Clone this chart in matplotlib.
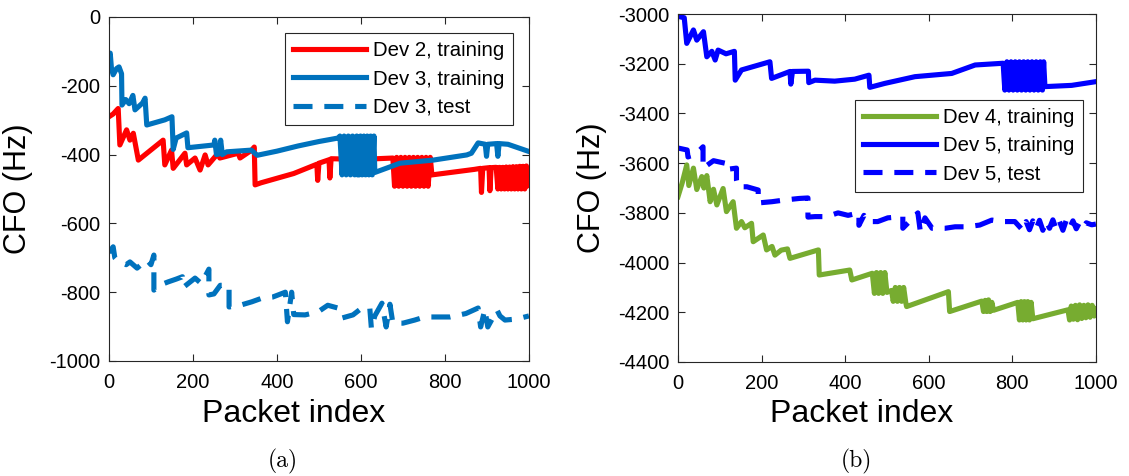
import matplotlib
matplotlib.use("Agg")
import matplotlib.pyplot as plt

plt.rcParams["font.family"] = ["Liberation Sans", "DejaVu Sans"]
plt.rcParams["axes.unicode_minus"] = False

# (packet index, CFO Hz)
dev2_train = [(0, -290), (10, -282), (22, -266), (26, -372), (42, -328), (50, -358), (58, -338),
              (70, -416), (129, -358), (133, -430), (149, -387), (153, -440), (181, -396), (185, -430),
              (205, -410), (217, -445), (229, -401), (236, -430), (260, -396), (264, -410), (308, -396),
              (312, -410), (340, -387), (346, -378), (348, -488), (362, -482), (440, -455), (495, -428),
              (497, -475), (500, -425), (524, -415), (526, -468), (529, -412), (600, -414), (676, -410),
              (680, -492), (685, -408), (690, -492), (695, -408), (700, -492), (705, -408), (710, -492),
              (715, -408), (720, -492), (725, -408), (730, -492), (735, -408), (740, -492), (745, -408),
              (750, -492), (755, -408), (760, -492), (765, -408), (769, -459), (870, -443), (885, -440),
              (887, -510), (890, -440), (905, -438), (907, -505), (910, -438), (922, -437), (926, -500),
              (930, -437), (934, -500), (938, -437), (942, -500), (946, -436), (950, -500), (954, -436),
              (958, -500), (962, -435), (966, -500), (970, -435), (974, -500), (978, -434), (982, -500),
              (986, -434), (990, -500), (994, -433), (1000, -490)]

dev3_train = [(0, -115), (3, -105), (6, -150), (10, -168), (18, -150), (24, -145), (30, -165),
              (31, -256), (40, -240), (48, -252), (57, -228), (62, -270), (80, -250), (86, -236),
              (90, -314), (133, -299), (150, -290), (153, -385), (160, -352), (185, -337), (188, -380),
              (250, -372), (252, -358), (256, -400), (262, -398), (266, -358), (270, -400), (280, -392),
              (339, -387), (353, -402), (400, -390), (450, -375), (500, -362), (545, -352),
              (550, -346), (555, -459), (560, -346), (565, -459), (570, -346), (575, -459), (580, -346),
              (585, -459), (590, -346), (592, -459), (596, -459), (599, -346), (603, -459), (607, -346),
              (611, -459), (615, -346), (619, -459), (623, -346), (627, -459), (631, -346), (633, -452),
              (693, -425), (772, -416), (852, -401), (863, -396), (879, -366), (896, -370), (899, -405),
              (902, -370), (923, -368), (926, -405), (929, -368), (950, -370), (1000, -391)]

dev3_test = [(0, -685), (10, -668), (14, -700), (22, -711), (41, -720), (50, -712), (67, -730),
             (90, -706), (100, -720), (107, -692), (107, -794), (120, -780), (141, -770), (160, -762),
             (175, -755), (178, -785), (205, -759), (220, -775), (238, -733), (238, -808), (250, -805),
             (265, -780), (286, -780), (286, -843), (315, -837), (340, -828), (365, -817), (390, -814),
             (420, -800), (425, -886), (435, -800), (440, -865), (467, -866), (498, -857), (521, -838),
             (545, -846), (555, -875), (581, -866), (600, -848), (621, -845), (625, -907), (633, -869),
             (650, -832), (660, -901), (669, -835), (676, -890), (700, -890), (728, -881), (752, -872),
             (783, -872), (812, -872), (850, -862), (879, -846), (885, -901), (895, -850), (902, -901),
             (924, -852), (931, -869), (943, -881), (971, -878), (1000, -869)]

dev4_train = [(0, -3735), (10, -3680), (21, -3607), (26, -3690), (37, -3620), (45, -3706), (57, -3654),
              (62, -3700), (69, -3650), (77, -3755), (85, -3705), (93, -3768), (108, -3702), (116, -3795),
              (132, -3755), (140, -3862), (152, -3835), (160, -3860), (176, -3842), (180, -3916),
              (204, -3889), (212, -3949), (225, -3935), (232, -3970), (247, -3950), (262, -3945),
              (268, -3983), (336, -3949), (338, -4050), (411, -4030), (416, -4070), (465, -4043),
              (470, -4124), (475, -4040), (480, -4124), (485, -4040), (490, -4124), (495, -4040),
              (500, -4120), (511, -4112), (515, -4156), (520, -4100), (525, -4156), (530, -4100),
              (535, -4156), (540, -4100), (545, -4160), (547, -4177), (647, -4117), (650, -4197),
              (727, -4155), (731, -4197), (735, -4152), (739, -4197), (743, -4150), (747, -4197),
              (751, -4160), (755, -4192), (813, -4160), (817, -4231), (821, -4157), (825, -4231),
              (829, -4157), (833, -4231), (837, -4157), (841, -4231), (845, -4160), (849, -4226),
              (933, -4190), (937, -4231), (941, -4175), (946, -4228), (951, -4172), (956, -4230),
              (961, -4170), (966, -4225), (971, -4172), (976, -4222), (981, -4170), (986, -4220),
              (991, -4172), (996, -4215), (1000, -4185)]

dev5_train = [(0, -3005), (5, -3011), (15, -3015), (21, -3118), (37, -3064), (45, -3105), (61, -3071),
              (69, -3172), (81, -3150), (89, -3185), (96, -3145), (115, -3160), (135, -3150),
              (137, -3266), (152, -3225), (220, -3192), (224, -3259), (268, -3231), (270, -3282),
              (274, -3231), (312, -3230), (313, -3276), (328, -3266), (375, -3270), (423, -3262),
              (457, -3246), (459, -3295), (495, -3279), (567, -3252), (655, -3239), (711, -3205),
              (778, -3198), (782, -3306), (787, -3192), (792, -3306), (797, -3192), (802, -3306),
              (807, -3192), (812, -3306), (817, -3192), (822, -3306), (827, -3192), (832, -3306),
              (837, -3192), (842, -3306), (847, -3192), (852, -3306), (857, -3192), (862, -3306),
              (867, -3192), (872, -3306), (875, -3192), (878, -3292), (942, -3287), (1000, -3272)]

dev5_test = [(0, -3539), (22, -3547), (24, -3575), (45, -3560), (60, -3534), (60, -3620), (85, -3590),
             (112, -3600), (112, -3626), (140, -3620), (140, -3668), (144, -3695), (165, -3695),
             (192, -3708), (192, -3760), (225, -3755), (256, -3748), (290, -3742), (311, -3740),
             (311, -3817), (328, -3815), (356, -3815), (383, -3800), (407, -3810), (433, -3800),
             (433, -3850), (445, -3810), (455, -3835), (478, -3835), (502, -3820), (538, -3815),
             (538, -3862), (574, -3800), (580, -3877), (591, -3820), (608, -3862), (639, -3862),
             (663, -3856), (691, -3856), (722, -3849), (751, -3829), (778, -3835), (806, -3835),
             (825, -3870), (833, -3835), (841, -3868), (849, -3832), (857, -3865), (865, -3830),
             (873, -3870), (881, -3833), (889, -3862), (897, -3828), (905, -3866), (913, -3835),
             (921, -3870), (929, -3830), (937, -3860), (945, -3832), (953, -3864), (961, -3838),
             (969, -3858), (977, -3840), (990, -3848), (1000, -3845)]

xticks = [0, 200, 400, 600, 800, 1000]
yticks_a = [0, -200, -400, -600, -800, -1000]
yticks_b = [-3000, -3200, -3400, -3600, -3800, -4000, -4200, -4400]

LW = 3.7
DASH = (0, (3.7, 2.3))
AXC = "#262626"


def style(ax, yticks, ylab_x, xlab_y):
    ax.set_xlim(0, 1000)
    ax.set_ylim(min(yticks), max(yticks))
    ax.set_xticks(xticks)
    ax.set_xticklabels([str(t) for t in xticks])
    ax.set_yticks(yticks)
    ax.set_yticklabels([str(t) for t in yticks])
    ax.tick_params(direction="in", top=True, right=True, length=5, width=0.8,
                   colors=AXC, labelsize=14.5, labelcolor="black")
    ax.tick_params(axis="x", pad=9)
    ax.tick_params(axis="y", pad=6)
    for s in ax.spines.values():
        s.set_color(AXC)
        s.set_linewidth(0.8)
    ax.set_xlabel("Packet index", fontsize=23)
    ax.set_ylabel("CFO (Hz)", fontsize=22)
    ax.xaxis.set_label_coords(0.44, xlab_y)
    ax.yaxis.set_label_coords(ylab_x, 0.5)


fig = plt.figure(figsize=(11.29, 4.76), dpi=100)
ax1 = fig.add_axes([0.0965, 0.2416, 0.372, 0.7227])
ax2 = fig.add_axes([0.6005, 0.2395, 0.3702, 0.731])

x, y = zip(*dev2_train)
ax1.plot(x, y, color="#FF0000", lw=LW, label="Dev 2, training")
x, y = zip(*dev3_train)
ax1.plot(x, y, color="#0072BD", lw=LW, label="Dev 3, training")
x, y = zip(*dev3_test)
ax1.plot(x, y, color="#0072BD", lw=LW, ls=DASH, label="Dev 3, test")
style(ax1, yticks_a, -0.18, -0.11)

x, y = zip(*dev4_train)
ax2.plot(x, y, color="#77AC30", lw=LW, label="Dev 4, training")
x, y = zip(*dev5_train)
ax2.plot(x, y, color="#0000FF", lw=LW, label="Dev 5, training")
x, y = zip(*dev5_test)
ax2.plot(x, y, color="#0000FF", lw=LW, ls=DASH, label="Dev 5, test")
style(ax2, yticks_b, -0.17, -0.106)

for ax, anchor in ((ax1, (0.962, 0.953)), (ax2, (0.969, 0.753))):
    leg = ax.legend(loc="upper right", bbox_to_anchor=anchor, borderaxespad=0,
                    fontsize=14.7, handlelength=3.6, handletextpad=0.35, labelspacing=0.45,
                    fancybox=False, framealpha=1, borderpad=0.4)
    leg.get_frame().set_edgecolor(AXC)
    leg.get_frame().set_linewidth(0.8)

fig.text(0.2507, 0.03, "(a)", fontsize=17, family="cmr10", ha="center", va="center")
fig.text(0.759, 0.03, "(b)", fontsize=17, family="cmr10", ha="center", va="center")

fig.savefig("out.png", dpi=100)
